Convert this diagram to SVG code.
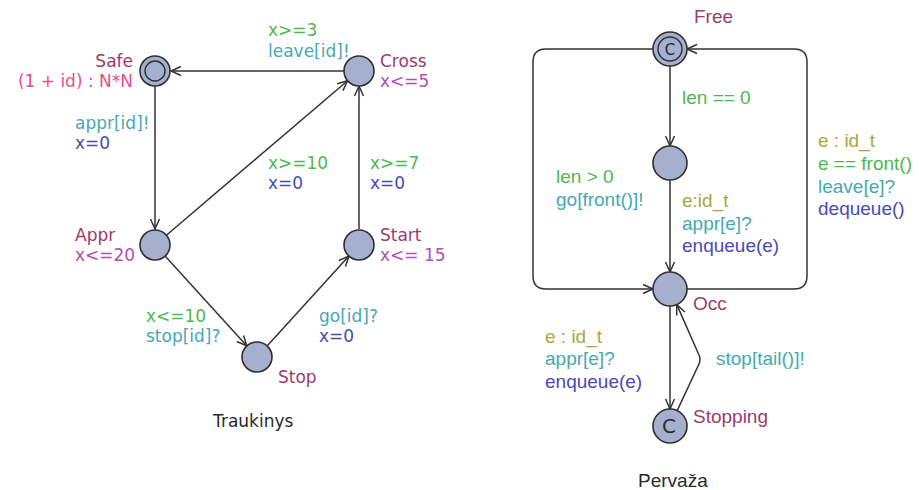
<svg xmlns="http://www.w3.org/2000/svg" width="919" height="490" viewBox="0 0 919 490">
  <style>
    .loc { fill: #a5afce; stroke: #2f2f2f; stroke-width: 1.6; }
    .ring { fill: none; stroke: #2f2f2f; stroke-width: 1.4; }
    .edge { fill: none; stroke: #333333; stroke-width: 1.5; }
    .l { font-family: "DejaVu Sans", Verdana, sans-serif; font-size: 17px; }
    .r { font-family: "Liberation Sans", Arial, sans-serif; font-size: 19px; }
    .name { fill: #9b3b6b; }
    .inv { fill: #b24db9; }
    .rate { fill: #e8508a; }
    .guard { fill: #4fb74f; }
    .sync { fill: #45a9b0; }
    .upd { fill: #4a4ab6; }
    .sel { fill: #a7a83a; }
    .title { fill: #2a2a2a; }
    .cmark { font-family: "DejaVu Sans", sans-serif; fill: #2a2a2a; text-anchor: middle; }
  </style>
  <defs>
    <marker id="arrow" markerUnits="userSpaceOnUse" markerWidth="14" markerHeight="12" refX="0" refY="0" viewBox="-11 -6 12 12" orient="auto" overflow="visible">
      <path d="M -10,-4.5 L 0,0 L -10,4.5" fill="none" stroke="#333333" stroke-width="1.5"/>
    </marker>
  </defs>

  <!-- Traukinys (train) template -->
  <g id="edges-train">
    <line class="edge" x1="344" y1="71" x2="171" y2="71" marker-end="url(#arrow)"/>
    <line class="edge" x1="155" y1="86" x2="155" y2="229" marker-end="url(#arrow)"/>
    <line class="edge" x1="166.4" y1="235.3" x2="347.6" y2="80.7" marker-end="url(#arrow)"/>
    <line class="edge" x1="359" y1="229" x2="359" y2="86" marker-end="url(#arrow)"/>
    <line class="edge" x1="165.1" y1="256.1" x2="246.9" y2="345.9" marker-end="url(#arrow)"/>
    <line class="edge" x1="267.1" y1="345.9" x2="348.9" y2="256.1" marker-end="url(#arrow)"/>
  </g>

  <g id="node-safe">
    <circle class="loc" cx="155" cy="71" r="15"/>
    <circle class="ring" cx="155" cy="71" r="10"/>
    <text class="l name" x="133" y="67" text-anchor="end">Safe</text>
    <text class="l rate" x="133" y="87" text-anchor="end">(1 + id) : N*N</text>
  </g>
  <g id="node-cross">
    <circle class="loc" cx="359" cy="71" r="15"/>
    <text class="l name" x="380" y="67">Cross</text>
    <text class="l inv" x="380" y="87">x&lt;=5</text>
  </g>
  <g id="node-appr">
    <circle class="loc" cx="155" cy="245" r="15"/>
    <text class="l name" x="75" y="241">Appr</text>
    <text class="l inv" x="75" y="261">x&lt;=20</text>
  </g>
  <g id="node-start">
    <circle class="loc" cx="359" cy="245" r="15"/>
    <text class="l name" x="380" y="241">Start</text>
    <text class="l inv" x="380" y="261">x&lt;= 15</text>
  </g>
  <g id="node-stop">
    <circle class="loc" cx="257" cy="357" r="15"/>
    <text class="l name" x="278" y="383">Stop</text>
  </g>

  <g id="labels-train">
    <text class="l guard" x="268" y="36">x&gt;=3</text>
    <text class="l sync" x="268" y="57">leave[id]!</text>
    <text class="l sync" x="75" y="129">appr[id]!</text>
    <text class="l upd" x="75" y="149">x=0</text>
    <text class="l guard" x="268" y="169">x&gt;=10</text>
    <text class="l upd" x="268" y="189">x=0</text>
    <text class="l guard" x="370" y="169">x&gt;=7</text>
    <text class="l upd" x="370" y="189">x=0</text>
    <text class="l guard" x="146" y="322">x&lt;=10</text>
    <text class="l sync" x="146" y="342">stop[id]?</text>
    <text class="l sync" x="319" y="322">go[id]?</text>
    <text class="l upd" x="319" y="342">x=0</text>
    <text class="l title" x="213" y="427">Traukinys</text>
  </g>

  <!-- Pervaža (gate) template -->
  <g id="edges-gate">
    <line class="edge" x1="670" y1="66" x2="670" y2="146" marker-end="url(#arrow)"/>
    <line class="edge" x1="670" y1="180" x2="670" y2="272" marker-end="url(#arrow)"/>
    <path class="edge" d="M 653,49 H 546 Q 533,49 533,62 V 276 Q 533,289 546,289 H 653" marker-end="url(#arrow)"/>
    <path class="edge" d="M 687,289 H 794 Q 807,289 807,276 V 62 Q 807,49 794,49 H 687" marker-end="url(#arrow)"/>
    <line class="edge" x1="670" y1="306" x2="670" y2="409" marker-end="url(#arrow)"/>
    <path class="edge" d="M 677.2,410.6 L 699,364 Q 701,359 699,355 L 676.8,304.6" marker-end="url(#arrow)"/>
  </g>

  <g id="node-free">
    <circle class="loc" cx="670" cy="49" r="17"/>
    <circle class="ring" cx="670" cy="49" r="12"/>
    <text class="cmark" x="670" y="54.5" font-size="15">C</text>
    <text class="r name" x="694" y="23">Free</text>
  </g>
  <g id="node-mid">
    <circle class="loc" cx="670" cy="163" r="17"/>
  </g>
  <g id="node-occ">
    <circle class="loc" cx="670" cy="289" r="17"/>
    <text class="r name" x="693" y="310">Occ</text>
  </g>
  <g id="node-stopping">
    <circle class="loc" cx="670" cy="426" r="17"/>
    <text class="cmark" x="669" y="433" font-size="20">C</text>
    <text class="r name" x="693" y="423">Stopping</text>
  </g>

  <g id="labels-gate">
    <text class="r guard" x="682" y="104">len == 0</text>
    <text class="r guard" x="556" y="183">len &gt; 0</text>
    <text class="r sync" x="556" y="206">go[front()]!</text>
    <text class="r sel" x="682" y="207">e:id_t</text>
    <text class="r sync" x="682" y="230">appr[e]?</text>
    <text class="r upd" x="682" y="252">enqueue(e)</text>
    <text class="r sel" x="818" y="147">e : id_t</text>
    <text class="r guard" x="818" y="170">e == front()</text>
    <text class="r sync" x="818" y="193">leave[e]?</text>
    <text class="r upd" x="818" y="215">dequeue()</text>
    <text class="r sel" x="545" y="343">e : id_t</text>
    <text class="r sync" x="545" y="365">appr[e]?</text>
    <text class="r upd" x="545" y="388">enqueue(e)</text>
    <text class="r sync" x="716" y="365">stop[tail()]!</text>
    <text class="r title" x="638" y="487">Pervaža</text>
  </g>
</svg>
